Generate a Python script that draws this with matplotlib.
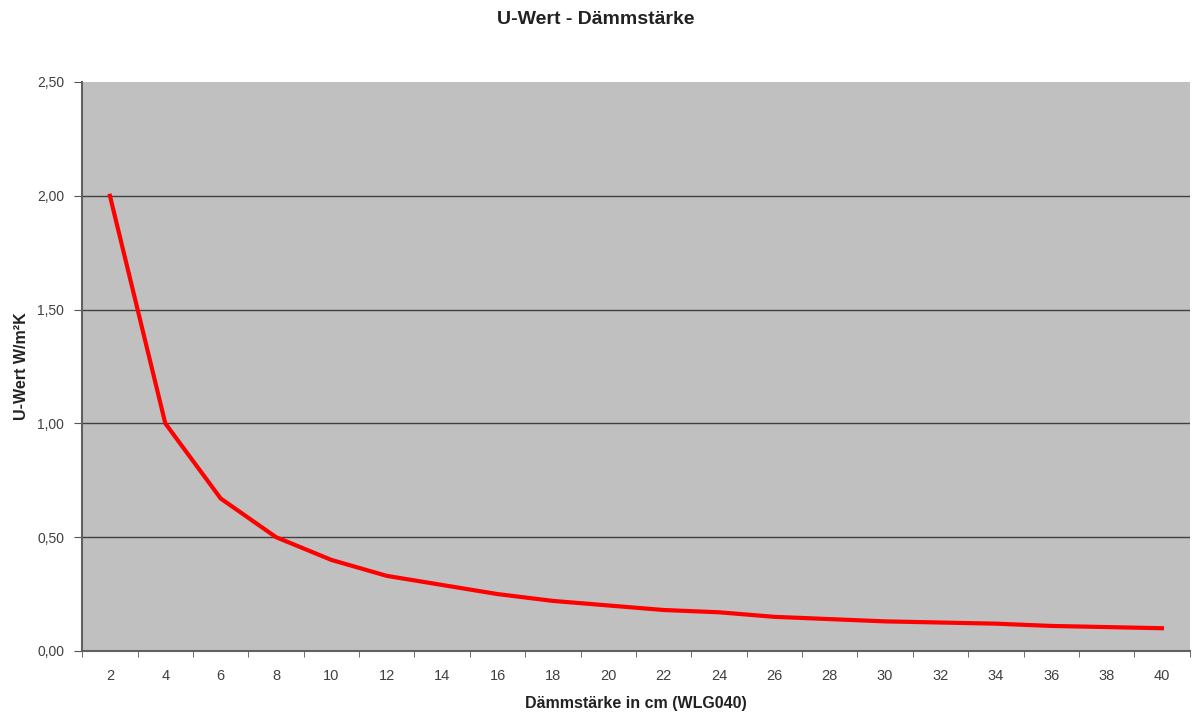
import matplotlib
matplotlib.use("Agg")
import matplotlib.pyplot as plt
from matplotlib.ticker import FuncFormatter, FixedLocator

plt.rcParams['font.family'] = ['Liberation Sans', 'DejaVu Sans']

# Dämmstärke (cm) and U-Wert (W/m²K)
thickness = [2, 4, 6, 8, 10, 12, 14, 16, 18, 20, 22, 24, 26, 28, 30, 32, 34, 36, 38, 40]
u_value = [2.00, 1.00, 0.67, 0.50, 0.40, 0.33, 0.29, 0.25, 0.22, 0.20,
           0.18, 0.17, 0.15, 0.14, 0.13, 0.125, 0.12, 0.11, 0.105, 0.10]

fig = plt.figure(figsize=(11.92, 7.13), dpi=100)
ax = fig.add_axes([0.069, 0.087, 0.929, 0.798])
ax.set_facecolor('#c0c0c0')

pos = list(range(len(thickness)))
ax.plot(pos, u_value, color='#ff0000', lw=3, zorder=3)

ax.set_xlim(-0.5, len(thickness) - 0.5)
ax.set_ylim(0, 2.5)

# gridlines
for y in [0.5, 1.0, 1.5, 2.0]:
    ax.axhline(y, color='#404040', lw=1, zorder=1)

ax.set_xticks(pos)
ax.set_xticklabels([str(t) for t in thickness])
ax.xaxis.set_minor_locator(FixedLocator([p - 0.5 for p in pos] + [pos[-1] + 0.5]))
ax.tick_params(axis='x', which='major', length=0, pad=13, labelsize=10.5, colors='#404040')
ax.tick_params(axis='x', which='minor', length=4, color='#555555')
ax.set_yticks([0, 0.5, 1.0, 1.5, 2.0, 2.5])
ax.yaxis.set_major_formatter(FuncFormatter(lambda v, p: f"{v:.2f}".replace('.', ',')))
ax.tick_params(axis='y', length=6, pad=7, labelsize=10, colors='#555555', labelcolor='#404040')

for s in ['top', 'right']:
    ax.spines[s].set_visible(False)
for s in ['left', 'bottom']:
    ax.spines[s].set_color('#606060')
    ax.spines[s].set_linewidth(1.5)

ax.set_xlabel('Dämmstärke in cm (WLG040)', fontsize=11.5, fontweight='bold', labelpad=9, color='#222222')
ax.set_ylabel('U-Wert W/m²K', fontsize=11.5, fontweight='bold', labelpad=6, color='#222222')
fig.text(0.5, 0.972, 'U-Wert - Dämmstärke', fontsize=14, fontweight='bold',
         ha='center', va='center', color='#222222')

fig.savefig('out.png', dpi=100)
